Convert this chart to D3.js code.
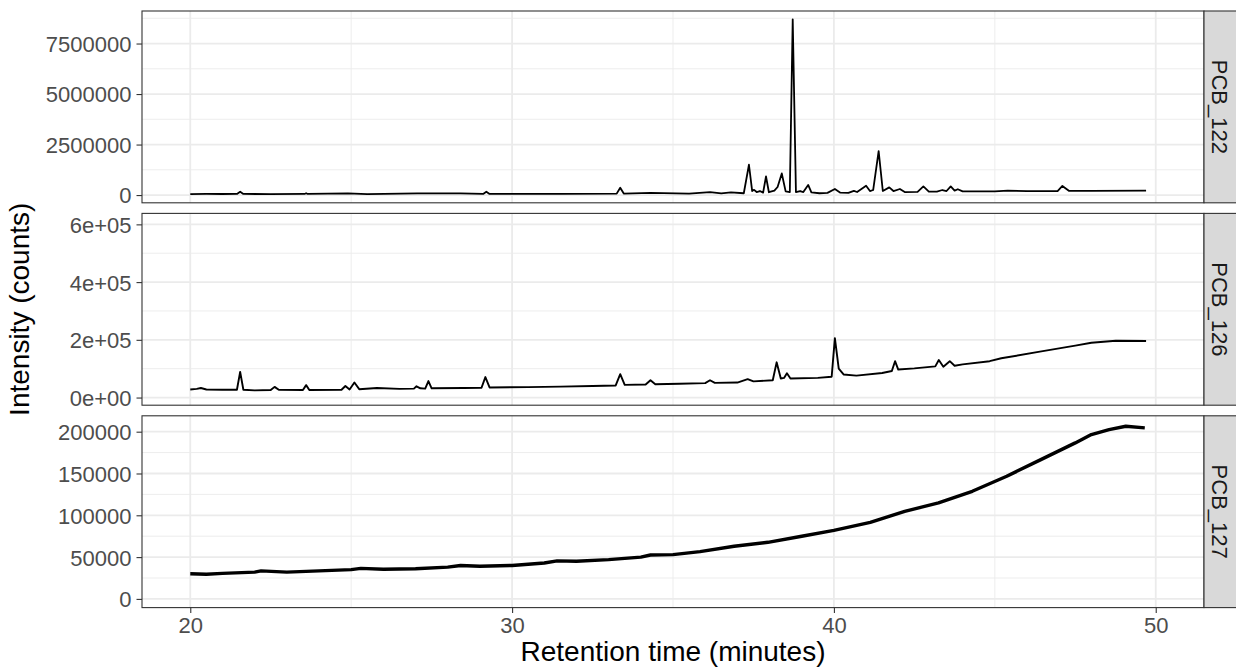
<!DOCTYPE html>
<html>
<head>
<meta charset="utf-8">
<script src="https://cdn.jsdelivr.net/npm/d3@7"></script>
<style>
  body { margin: 0; background: #fff; }
  text { font-family: "Liberation Sans", Arial, Helvetica, sans-serif; }
</style>
</head>
<body>
<svg id="chart" width="1236" height="669"></svg>
<script>
// chromatograms: [retention time (min), intensity (counts)]
var pcb122 = [
    [20.0, 50000], [20.5, 55000], [21.0, 52000], [21.45, 55000], [21.55, 165000], [21.65, 55000],
    [22.5, 50000], [23.55, 55000], [23.6, 90000], [23.65, 55000], [24.9, 80000], [25.5, 50000],
    [27.05, 85000], [28.4, 80000], [29.1, 55000], [29.2, 165000], [29.3, 55000], [30.5, 55000],
    [31.5, 60000], [33.25, 70000], [33.36, 360000], [33.47, 75000], [34.3, 110000], [35.5, 75000],
    [36.15, 150000], [36.5, 80000], [36.8, 130000], [37.2, 90000], [37.36, 1500000], [37.46, 200000],
    [37.52, 260000], [37.6, 150000], [37.7, 200000], [37.8, 120000], [37.89, 920000], [37.98, 140000],
    [38.15, 220000], [38.25, 400000], [38.38, 1070000], [38.5, 180000], [38.63, 150000], [38.72, 8700000],
    [38.82, 150000], [38.95, 200000], [39.05, 150000], [39.2, 500000], [39.3, 130000], [39.55, 90000],
    [39.8, 110000], [40.03, 300000], [40.2, 120000], [40.45, 110000], [40.62, 210000], [40.72, 150000],
    [40.9, 350000], [41.0, 460000], [41.12, 200000], [41.22, 250000], [41.39, 2170000], [41.52, 200000],
    [41.72, 380000], [41.85, 200000], [42.05, 300000], [42.2, 150000], [42.6, 160000], [42.78, 430000],
    [42.95, 170000], [43.2, 170000], [43.37, 250000], [43.5, 200000], [43.63, 430000], [43.75, 220000],
    [43.85, 290000], [44.0, 180000], [45.0, 180000], [45.4, 220000], [46.0, 190000], [46.95, 200000],
    [47.1, 450000], [47.3, 210000], [48.0, 210000], [49.7, 215000]
];

var pcb126 = [
    [20.0, 28000], [20.2, 30000], [20.33, 33000], [20.5, 28000], [21.0, 27000], [21.45, 27000],
    [21.55, 89000], [21.65, 27000], [22.0, 25000], [22.5, 26000], [22.62, 37000], [22.75, 27000],
    [23.5, 26000], [23.6, 43000], [23.7, 26000], [24.7, 27000], [24.82, 40000], [24.95, 28000],
    [25.1, 52000], [25.25, 29000], [25.8, 33000], [26.5, 30000], [26.95, 31000], [27.03, 39000],
    [27.15, 32000], [27.3, 31000], [27.4, 57000], [27.5, 32000], [28.5, 33000], [29.05, 34000],
    [29.17, 71000], [29.3, 35000], [30.5, 36000], [31.5, 38000], [32.5, 40000], [33.22, 42000],
    [33.36, 81000], [33.5, 44000], [34.15, 45000], [34.3, 60000], [34.45, 46000], [35.2, 48000],
    [36.0, 50000], [36.15, 60000], [36.3, 51000], [37.0, 52000], [37.32, 64000], [37.5, 56000],
    [38.1, 60000], [38.22, 122000], [38.35, 66000], [38.45, 68000], [38.54, 84000], [38.65, 66000],
    [39.5, 68000], [39.93, 72000], [40.03, 206000], [40.15, 100000], [40.3, 80000], [40.7, 76000],
    [41.5, 85000], [41.8, 92000], [41.9, 126000], [42.0, 97000], [42.5, 101000], [43.15, 108000],
    [43.26, 130000], [43.4, 107000], [43.6, 126000], [43.75, 110000], [44.0, 115000], [44.84, 126000],
    [45.2, 136000], [46.4, 159000], [47.5, 180000], [48.0, 190000], [48.76, 197000], [49.7, 196000]
];

var pcb127 = [
    [20.0, 30000], [20.5, 29500], [21.0, 30500], [22.0, 32000], [22.2, 33500], [23.0, 32000],
    [24.0, 33500], [25.0, 35000], [25.3, 36500], [26.0, 35500], [27.0, 36000], [28.0, 38000],
    [28.4, 40000], [29.0, 39000], [30.0, 40000], [31.0, 43000], [31.4, 45500], [32.0, 45000],
    [33.0, 47000], [34.0, 50000], [34.3, 52500], [35.0, 53000], [35.84, 56500], [36.9, 63000],
    [37.95, 67700], [39.0, 74900], [40.0, 82000], [41.13, 91600], [42.2, 104800], [43.25, 114800],
    [44.3, 128700], [45.37, 146700], [46.43, 166600], [47.5, 186600], [48.0, 196500], [48.55, 202500],
    [49.07, 206500], [49.66, 204500]
];

var panelNames = ["PCB_122", "PCB_126", "PCB_127"];
var xLimits = [18.5, 51.5];
var xTicks = [20, 30, 40, 50];
var yLimits122 = [-383000, 9110000];
var yLimits126 = [-26500, 638000];
var yLimits127 = [-10400, 219000];
var yTicks122 = [0, 2500000, 5000000, 7500000];
var yLabels122 = ["0", "2500000", "5000000", "7500000"];
var yTicks126 = [0, 200000, 400000, 600000];
var yLabels126 = ["0e+00", "2e+05", "4e+05", "6e+05"];
var yTicks127 = [0, 50000, 100000, 150000, 200000];
var yLabels127 = ["0", "50000", "100000", "150000", "200000"];

var panels = [
    { name: panelNames[0], data: pcb122, limits: yLimits122, ticks: yTicks122, labels: yLabels122, lineWidth: 1.8 },
    { name: panelNames[1], data: pcb126, limits: yLimits126, ticks: yTicks126, labels: yLabels126, lineWidth: 1.9 },
    { name: panelNames[2], data: pcb127, limits: yLimits127, ticks: yTicks127, labels: yLabels127, lineWidth: 3.4 }
];

var W = 1236, H = 669;
var left = 142, right = 1204, stripRight = 1236;
var top0 = 11, panelStep = 202.4, panelH = 191.8;
var tickFont = 22, titleFont = 28;
var gridColor = "#EBEBEB", borderColor = "#333333", tickTextColor = "#4D4D4D";

var svg = d3.select("#chart");
svg.append("rect").attr("width", W).attr("height", H).attr("fill", "#fff");

var x = d3.scaleLinear().domain(xLimits).range([left, right]);

// half-way lines between major ticks, kept inside the limits
function minorBreaks(ticks, limits) {
    var step = ticks[1] - ticks[0];
    var out = [];
    for (var v = ticks[0] - step / 2; v <= ticks[ticks.length - 1] + step; v += step) {
        if (v >= limits[0] && v <= limits[1]) out.push(v);
    }
    return out;
}

var xMinor = minorBreaks(xTicks, xLimits);

panels.forEach(function (p, i) {
    var pTop = top0 + i * panelStep, pBottom = pTop + panelH;
    var y = d3.scaleLinear().domain(p.limits).range([pBottom, pTop]);
    var g = svg.append("g").attr("class", "panel");

    var clipId = "clip" + i;
    svg.append("clipPath").attr("id", clipId).append("rect")
        .attr("x", left).attr("y", pTop).attr("width", right - left).attr("height", panelH);

    // minor grid
    g.selectAll("line.xminor").data(xMinor).enter().append("line")
        .attr("x1", function (d) { return x(d); }).attr("x2", function (d) { return x(d); })
        .attr("y1", pTop).attr("y2", pBottom)
        .attr("stroke", gridColor).attr("stroke-width", 0.9);
    g.selectAll("line.yminor").data(minorBreaks(p.ticks, p.limits)).enter().append("line")
        .attr("x1", left).attr("x2", right)
        .attr("y1", function (d) { return y(d); }).attr("y2", function (d) { return y(d); })
        .attr("stroke", gridColor).attr("stroke-width", 0.9);

    // major grid
    g.selectAll("line.xmajor").data(xTicks).enter().append("line")
        .attr("x1", function (d) { return x(d); }).attr("x2", function (d) { return x(d); })
        .attr("y1", pTop).attr("y2", pBottom)
        .attr("stroke", gridColor).attr("stroke-width", 1.8);
    g.selectAll("line.ymajor").data(p.ticks).enter().append("line")
        .attr("x1", left).attr("x2", right)
        .attr("y1", function (d) { return y(d); }).attr("y2", function (d) { return y(d); })
        .attr("stroke", gridColor).attr("stroke-width", 1.8);

    // chromatogram trace
    var line = d3.line()
        .x(function (d) { return x(d[0]); })
        .y(function (d) { return y(d[1]); });
    g.append("path")
        .datum(p.data)
        .attr("d", line)
        .attr("clip-path", "url(#" + clipId + ")")
        .attr("fill", "none")
        .attr("stroke", "#000")
        .attr("stroke-width", p.lineWidth)
        .attr("stroke-linejoin", "round");

    // panel border
    g.append("rect")
        .attr("x", left).attr("y", pTop).attr("width", right - left).attr("height", panelH)
        .attr("fill", "none").attr("stroke", borderColor).attr("stroke-width", 1.1);

    // y axis
    var yAxis = d3.axisLeft(y)
        .tickValues(p.ticks)
        .tickFormat(function (d, k) { return p.labels[k]; })
        .tickSize(5.5)
        .tickPadding(5);
    var ya = svg.append("g").attr("transform", "translate(" + left + ",0)").call(yAxis);
    ya.select(".domain").remove();
    ya.selectAll(".tick line").attr("stroke", borderColor).attr("stroke-width", 1.1);
    ya.selectAll(".tick text")
        .attr("fill", tickTextColor)
        .attr("font-size", tickFont)
        .attr("font-family", "Liberation Sans, Arial, sans-serif")
        .attr("dy", "0.36em");

    // strip on the right
    svg.append("rect")
        .attr("x", right).attr("y", pTop).attr("width", stripRight - right + 2).attr("height", panelH)
        .attr("fill", "#D9D9D9").attr("stroke", borderColor).attr("stroke-width", 1.1);
    svg.append("text")
        .attr("transform", "translate(" + ((right + stripRight) / 2) + "," + (pTop + panelH / 2) + ") rotate(90)")
        .attr("text-anchor", "middle")
        .attr("dy", "0.36em")
        .attr("font-size", tickFont)
        .attr("fill", "#1A1A1A")
        .text(p.name);

    // x axis only under the last panel
    if (i === panels.length - 1) {
        var xAxis = d3.axisBottom(x).tickValues(xTicks).tickSize(5.5).tickPadding(4);
        var xa = svg.append("g").attr("transform", "translate(0," + pBottom + ")").call(xAxis);
        xa.select(".domain").remove();
        xa.selectAll(".tick line").attr("stroke", borderColor).attr("stroke-width", 1.1);
        xa.selectAll(".tick text")
            .attr("fill", tickTextColor)
            .attr("font-size", tickFont)
            .attr("font-family", "Liberation Sans, Arial, sans-serif");
    }
});

// axis titles
svg.append("text")
    .attr("x", (left + right) / 2).attr("y", 661)
    .attr("text-anchor", "middle")
    .attr("font-size", titleFont)
    .attr("fill", "#000")
    .text("Retention time (minutes)");

svg.append("text")
    .attr("transform", "translate(29," + (top0 + (2 * panelStep + panelH) / 2) + ") rotate(-90)")
    .attr("text-anchor", "middle")
    .attr("font-size", titleFont)
    .attr("fill", "#000")
    .text("Intensity (counts)");
</script>
</body>
</html>
